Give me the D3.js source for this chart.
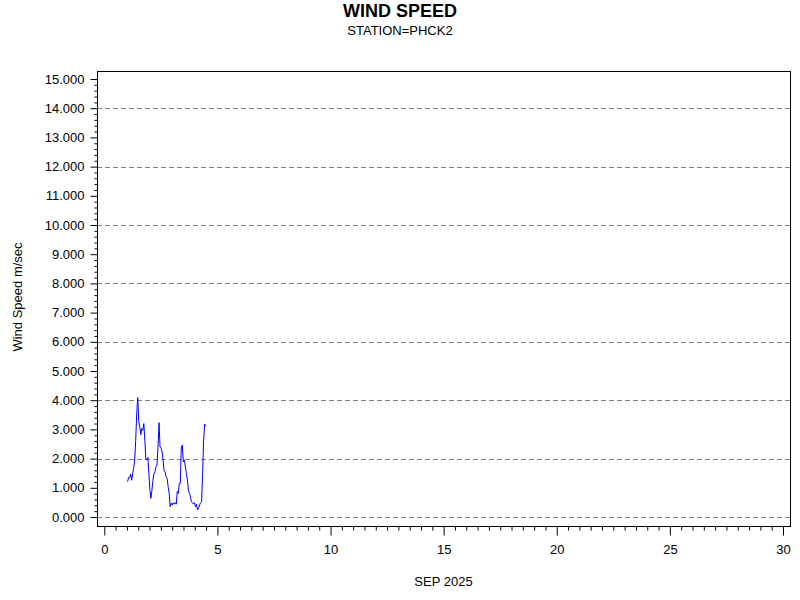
<!DOCTYPE html>
<html><head><meta charset="utf-8">
<script src="https://cdn.jsdelivr.net/npm/d3@7"></script>
<style>
body{margin:0;background:#fff;}
svg{display:block;font-family:"Liberation Sans",Arial,sans-serif;}
</style></head>
<body><svg id="c" width="800" height="600"></svg>
<script>
const title = "WIND SPEED";
const subtitle = "STATION=PHCK2";
const xLabel = "SEP 2025";
const yLabel = "Wind Speed m/sec";
const xTicks = [0,5,10,15,20,25,30];
const yTicks = [0,1,2,3,4,5,6,7,8,9,10,11,12,13,14,15];
const gridValues = [0,2,4,6,8,10,12,14];
const startDay = 1.03;
const endDay = 4.48;
const windSpeed = [1.21,1.35,1.35,1.47,1.26,1.49,1.66,1.95,2.63,3.54,4.09,3.26,3.09,2.82,3.03,2.97,3.20,2.63,1.97,1.97,
2.04,1.49,0.92,0.64,0.92,1.26,1.49,1.55,1.72,1.78,2.40,3.23,2.40,2.35,2.23,1.95,1.58,1.55,1.38,1.32,
1.04,0.81,0.35,0.47,0.41,0.49,0.44,0.49,0.44,0.87,0.81,1.15,1.15,2.40,2.46,1.89,1.95,1.72,1.49,1.26,
0.92,0.81,0.69,0.52,0.49,0.44,0.49,0.35,0.44,0.24,0.30,0.41,0.49,0.52,1.49,2.63,3.18,3.11];
const days = windSpeed.map((v,i)=> startDay + i*(endDay-startDay)/(windSpeed.length-1));

const svg = d3.select("#c");
const x = d3.scaleLinear().domain([0,30]).range([104.3,783]);
const y = d3.scaleLinear().domain([0,15]).range([517,79]);
const frame = {l:97, r:790, t:71, b:526};

svg.append("text").attr("x",400).attr("y",17).attr("text-anchor","middle")
  .attr("font-size",18).attr("font-weight","bold").text(title);
svg.append("text").attr("x",400).attr("y",35).attr("text-anchor","middle")
  .attr("font-size",13).text(subtitle);

// grid
svg.append("g").selectAll("line").data(gridValues).join("line")
  .attr("x1",frame.l).attr("x2",frame.r)
  .attr("y1",d=>Math.round(y(d))+0.5).attr("y2",d=>Math.round(y(d))+0.5)
  .attr("stroke","#808080").attr("stroke-dasharray","5,3");

// frame
svg.append("rect").attr("x",frame.l+0.5).attr("y",frame.t+0.5)
  .attr("width",frame.r-frame.l).attr("height",frame.b-frame.t)
  .attr("fill","none").attr("stroke","#000");

// y axis
const yAxis = d3.axisLeft(y).tickValues(yTicks).tickSize(7).tickFormat(d3.format(".3f"));
const gy = svg.append("g").attr("transform",`translate(${frame.l+0.5},0)`).call(yAxis);
gy.select(".domain").remove();
gy.selectAll("text").attr("font-size",13).attr("font-family","Liberation Sans, Arial, sans-serif").attr("dx",-3);
const yMinor = d3.axisLeft(y).tickValues(d3.range(0,15.01,0.2).filter(v=>Math.abs(v-Math.round(v))>0.01)).tickSize(3).tickFormat("");
const gym = svg.append("g").attr("transform",`translate(${frame.l+0.5},0)`).call(yMinor);
gym.select(".domain").remove();

// x axis
const xAxis = d3.axisBottom(x).tickValues(xTicks).tickSize(9).tickFormat(d3.format("d"));
const gx = svg.append("g").attr("transform",`translate(0,${frame.b+0.5})`).call(xAxis);
gx.select(".domain").remove();
gx.selectAll("text").attr("font-size",13).attr("font-family","Liberation Sans, Arial, sans-serif").attr("dy","1.2em");
const xMinor = d3.axisBottom(x).tickValues(d3.range(0,30.01,0.5).filter(v=>v%5!==0)).tickSize(4).tickFormat("");
const gxm = svg.append("g").attr("transform",`translate(0,${frame.b+0.5})`).call(xMinor);
gxm.select(".domain").remove();

// axis labels
svg.append("text").attr("x",(frame.l+frame.r)/2).attr("y",586).attr("text-anchor","middle")
  .attr("font-size",13).text(xLabel);
svg.append("text").attr("transform","translate(22,297) rotate(-90)").attr("text-anchor","middle")
  .attr("font-size",13).text(yLabel);

// line
const line = d3.line().x((d,i)=>x(days[i])).y(d=>y(d));
svg.append("path").datum(windSpeed).attr("d",line)
  .attr("fill","none").attr("stroke","#0000ff").attr("stroke-width",1);
</script></body></html>
